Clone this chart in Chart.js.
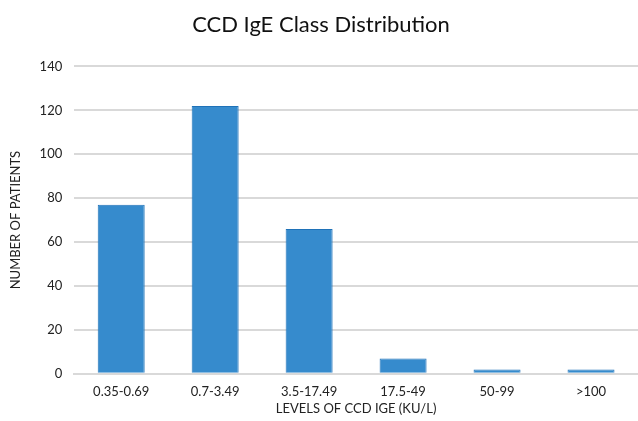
<!DOCTYPE html>
<html>
<head>
<meta charset="utf-8">
<script src="https://cdn.jsdelivr.net/npm/chart.js@4"></script>
<style>
  html, body { margin: 0; padding: 0; background: #fff; }
  #wrap { width: 638px; height: 421px; position: relative; }
</style>
</head>
<body>
<div id="wrap"><canvas id="chart"></canvas></div>
<script>
const categories = ['0.35-0.69', '0.7-3.49', '3.5-17.49', '17.5-49', '50-99', '>100'];
const patients = [77, 122, 66, 7, 2, 2];
const yTicks = [0, 20, 40, 60, 80, 100, 120, 140];

const font = "Lato, 'Open Sans', sans-serif";
const ctx = document.getElementById("chart");

new Chart(ctx, {
    type: 'bar',
    data: {
        labels: categories,
        datasets: [{
            data: patients,
            backgroundColor: '#368bcd',
            borderColor: '#1f72b8',
            borderWidth: 1,
            barPercentage: 0.5,
            categoryPercentage: 1
        }]
    },
    options: {
        responsive: true,
        maintainAspectRatio: false,
        animation: false,
        layout: { padding: { top: 10, right: 0, left: 4, bottom: 0 } },
        plugins: {
            legend: { display: false },
            tooltip: { enabled: false },
            title: {
                display: true,
                text: 'CCD IgE Class Distribution',
                color: '#111',
                font: { family: font, size: 22, weight: 'normal' },
                padding: { top: 2, bottom: 28 }
            }
        },
        scales: {
            x: {
                grid: { display: false },
                border: { color: '#d9d9d9', width: 2 },
                ticks: { color: '#222', font: { family: font, size: 13 }, padding: 2 },
                title: {
                    display: true,
                    text: 'LEVELS OF CCD IGE (KU/L)',
                    color: '#222',
                    font: { family: font, size: 13 },
                    padding: { top: 0, bottom: 4 }
                }
            },
            y: {
                min: 0,
                max: 140,
                afterBuildTicks: axis => { axis.ticks = yTicks.map(v => ({ value: v })); },
                grid: { color: '#d9d9d9', lineWidth: 2, drawTicks: false },
                border: { display: false },
                ticks: { color: '#222', font: { family: font, size: 13 }, padding: 12 },
                title: {
                    display: true,
                    text: 'NUMBER OF PATIENTS',
                    color: '#222',
                    font: { family: font, size: 13 },
                    padding: { bottom: 4 }
                }
            }
        }
    }
});
</script>
</body>
</html>
